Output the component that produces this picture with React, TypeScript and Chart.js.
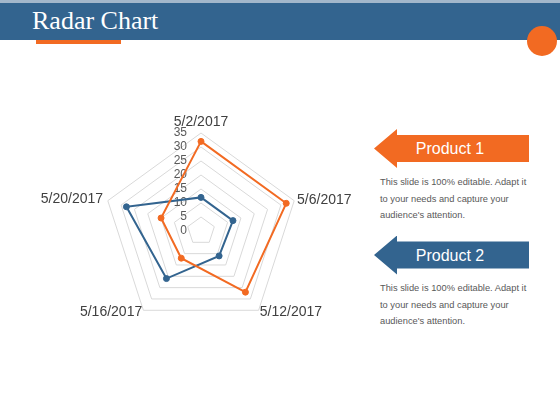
import React, { useEffect, useRef } from "react";
import { Chart, registerables } from "chart.js";

Chart.register(...registerables);

const categories = ["5/2/2017", "5/6/2017", "5/12/2017", "5/16/2017", "5/20/2017"];
const product1 = [32, 32, 27, 12, 15];
const product2 = [12, 12, 11, 21, 28];
const seriesNames = ["Product 1", "Product 2"];
const axisMin = 0;
const axisMax = 35;
const axisStep = 5;
const descriptionLines = [
  "This slide is 100% editable. Adapt it",
  "to your needs and capture your",
  "audience's attention.",
];

const ORANGE = "#F26A22";
const BLUE = "#33648F";
const SANS = "'Liberation Sans', Arial, sans-serif";

const labelPlugin = {
  id: "customLabels",
  beforeDatasetsDraw(chart: any) {
    const scale = chart.scales.r;
    const ctx = chart.ctx;
    ctx.save();
    ctx.font = `12px ${SANS}`;
    ctx.fillStyle = "#595959";
    ctx.textAlign = "right";
    ctx.textBaseline = "middle";
    scale.ticks.forEach((t: any) => {
      const d = scale.getDistanceFromCenterForValue(t.value);
      ctx.fillText(String(t.value), scale.xCenter - 14, scale.yCenter - d);
    });
    ctx.restore();
  },
  afterDraw(chart: any) {
    const scale = chart.scales.r;
    const ctx = chart.ctx;
    ctx.save();
    ctx.font = `14px ${SANS}`;
    ctx.fillStyle = "#404040";
    ctx.textBaseline = "middle";
    const extra = [11, 3, 2, 2, 5];
    chart.data.labels.forEach((c: string, i: number) => {
      const p = scale.getPointPosition(i, scale.drawingArea + extra[i]);
      const dx = p.x - scale.xCenter;
      ctx.textAlign = Math.abs(dx) < 2 ? "center" : dx > 0 ? "left" : "right";
      ctx.fillText(c, p.x, p.y);
    });
    ctx.restore();
  },
};

function RadarCanvas() {
  const ref = useRef<HTMLCanvasElement | null>(null);
  useEffect(() => {
    if (!ref.current) return;
    const ds = (label: string, data: number[], color: string) => ({
      label,
      data,
      borderColor: color,
      backgroundColor: color,
      pointBackgroundColor: color,
      pointBorderColor: color,
      pointBorderWidth: 1,
      pointRadius: 3,
      borderWidth: 2,
      fill: false,
      tension: 0,
    });
    const chart = new Chart(ref.current, {
      type: "radar",
      data: {
        labels: categories,
        datasets: [
          ds(seriesNames[0], product1, ORANGE),
          ds(seriesNames[1], product2, BLUE),
        ],
      },
      options: {
        animation: false,
        responsive: false,
        maintainAspectRatio: false,
        layout: { padding: { left: 83, top: 33, right: 61, bottom: 11 } },
        plugins: { legend: { display: false }, tooltip: { enabled: false } },
        scales: {
          r: {
            min: axisMin,
            max: axisMax,
            ticks: { display: false, stepSize: axisStep },
            pointLabels: { display: false },
            angleLines: { display: false },
            grid: { color: "#D9D9D9", lineWidth: 1 },
          },
        },
      },
      plugins: [labelPlugin],
    } as any);
    return () => chart.destroy();
  }, []);
  return (
    <canvas
      ref={ref}
      width={340}
      height={240}
      style={{ position: "absolute", left: 20, top: 100, width: 340, height: 240 }}
    />
  );
}

function Arrow({ top, color, text }: { top: number; color: string; text: string }) {
  return (
    <div
      style={{
        position: "absolute",
        left: 374,
        top,
        width: 155,
        height: 39,
        background: color,
        clipPath:
          "polygon(0 50%, 23px 0, 23px 6px, 100% 6px, 100% 33px, 23px 33px, 23px 100%)",
        color: "#fff",
        fontFamily: SANS,
        fontSize: 16,
        lineHeight: "39px",
        textAlign: "center",
        paddingRight: 3,
        boxSizing: "border-box",
      }}
    >
      {text}
    </div>
  );
}

function Description({ top }: { top: number }) {
  return (
    <div
      style={{
        position: "absolute",
        left: 380,
        top,
        fontFamily: SANS,
        fontSize: 9.3,
        lineHeight: "16.7px",
        color: "#595959",
        whiteSpace: "nowrap",
      }}
    >
      {descriptionLines.map((l, i) => (
        <div key={i}>{l}</div>
      ))}
    </div>
  );
}

export default function App() {
  return (
    <div
      style={{
        position: "fixed",
        left: 0,
        top: 0,
        width: 560,
        height: 420,
        background: "#fff",
        overflow: "hidden",
      }}
    >
      <div style={{ position: "absolute", left: 0, top: 0, width: 560, height: 3, background: "#A3B7CB" }} />
      <div style={{ position: "absolute", left: 0, top: 3, width: 560, height: 37, background: BLUE }} />
      <div style={{ position: "absolute", left: 36, top: 40, width: 85, height: 3.5, background: ORANGE }} />
      <div
        style={{
          position: "absolute",
          left: 32,
          top: 7.7,
          fontFamily: "'Liberation Serif', 'Times New Roman', serif",
          fontSize: 26,
          lineHeight: "26px",
          color: "#fff",
          whiteSpace: "nowrap",
        }}
      >
        Radar Chart
      </div>
      <div
        style={{
          position: "absolute",
          left: 526.7,
          top: 25.7,
          width: 30,
          height: 30,
          borderRadius: "50%",
          background: ORANGE,
        }}
      />
      <RadarCanvas />
      <Arrow top={129} color={ORANGE} text={seriesNames[0]} />
      <Description top={174} />
      <Arrow top={235.5} color={BLUE} text={seriesNames[1]} />
      <Description top={280} />
    </div>
  );
}
